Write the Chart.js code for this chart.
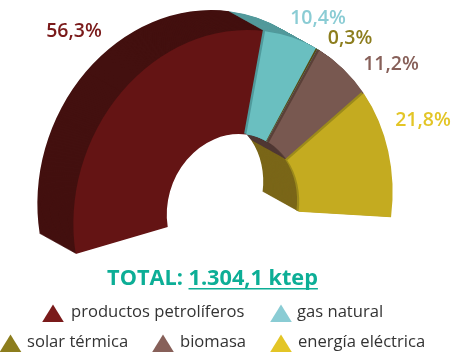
<!DOCTYPE html>
<html>
<head>
<meta charset="utf-8">
<style>html,body{margin:0;padding:0;background:#fff}canvas{display:block}</style>
<script src="https://cdn.jsdelivr.net/npm/chart.js@4"></script>
</head>
<body>
<canvas id="c" width="469" height="364"></canvas>
<script>
const categories = ['productos petrolíferos','gas natural','solar térmica','biomasa','energía eléctrica'];
const shares = [56.3,10.4,0.3,11.2,21.8];
const shareLabels = ['56,3%','10,4%','0,3%','11,2%','21,8%'];
const faceColors = ['#641414','#6abfc0','#6f601a','#785850','#c4ab20'];
const wallColors = ['#43100f','#549a9c','#57490f','#4f3733','#7a6618'];
const edgeColors = ['#43100f','#4f9a9c','#57490f','#5a4038','#9c8a1b'];
const legendColors = ['#7a1a1a','#8accd4','#8c7d1d','#876059','#e3c526'];
const labelColors = ['#7a1a1a','#8accd4','#8c7d1d','#876059','#e3c526'];
const labelAnchors = [[74,31],[318,18],[350,38],[391,64],[423,120]];
const legendSlots = [[53,71,313],[281,297,313],[10.5,27,343],[163,180,343],[281,298,343]];
const totalLabel = 'TOTAL: ';
const totalValue = '1.304,1 ktep';

const view = {cx:233, cy:208, rx:159, ry:178, skew:0.08, dx:-36, dy:-20, layers:40};
const FONT = '"Open Sans","Noto Sans",sans-serif';

function place(ctx, arc, ox, oy){
  const R = arc.outerRadius, a=view.rx/R, d=view.ry/R, c=-view.skew*d;
  ctx.setTransform(a,0,c,d,view.cx+ox-arc.x*a-arc.y*c,view.cy+oy-arc.y*d);
}
function paint(ctx, arc, color){
  const saved = arc.options;
  const o = Object.create(saved);
  o.backgroundColor = color; o.borderColor = color; o.borderWidth = 0;
  arc.options = o;
  arc.draw(ctx);
  arc.options = saved;
}
const extrude = {
  id:'extrude',
  beforeDatasetDraw(chart){
    const ctx = chart.ctx, arcs = chart.getDatasetMeta(0).data;
    ctx.save();
    for(let k=view.layers;k>0;k--){
      const t=k/view.layers;
      arcs.forEach((arc,i)=>{place(ctx,arc,view.dx*t,view.dy*t);paint(ctx,arc,wallColors[i]);});
    }
    arcs.forEach((arc,i)=>{
      if(i>0){place(ctx,arc,-2.2,-1.2);paint(ctx,arc,edgeColors[i]);}
      place(ctx,arc,0,0);paint(ctx,arc,faceColors[i]);
    });
    ctx.restore();
    return false;
  },
  afterDraw(chart){
    const ctx = chart.ctx;
    ctx.save();
    ctx.textBaseline='middle';ctx.textAlign='center';
    ctx.font='600 19.5px '+FONT;
    shareLabels.forEach((s,i)=>{ctx.fillStyle=labelColors[i];ctx.fillText(s,labelAnchors[i][0],labelAnchors[i][1]);});
    ctx.font='700 21.7px '+FONT;
    ctx.textAlign='left';ctx.fillStyle='#0cae96';
    const w1=ctx.measureText(totalLabel).width,w2=ctx.measureText(totalValue).width;
    const x=212.5-(w1+w2)/2,y=279;
    ctx.fillText(totalLabel,x,y);
    ctx.fillText(totalValue,x+w1,y);
    ctx.fillRect(x+w1,y+9,w2,1.5);
    ctx.font='16.6px '+FONT;
    categories.forEach((t,i)=>{
      const [mx,tx,y0]=legendSlots[i];
      ctx.fillStyle=legendColors[i];
      ctx.beginPath();ctx.moveTo(mx,y0-8.5);ctx.lineTo(mx+10.8,y0+9);ctx.lineTo(mx-10.8,y0+9);ctx.closePath();ctx.fill();
      ctx.fillStyle='#333';
      ctx.fillText(t,tx,y0-1);
    });
    ctx.restore();
  }
};
new Chart(document.getElementById('c'),{
  type:'doughnut',
  data:{labels:categories,datasets:[{data:shares,backgroundColor:faceColors,borderWidth:0}]},
  options:{
    responsive:false,animation:false,cutout:'41.5%',rotation:-105,circumference:198,
    plugins:{tooltip:{enabled:false},legend:{display:false}}
  },
  plugins:[extrude]
});
</script>
</body>
</html>
